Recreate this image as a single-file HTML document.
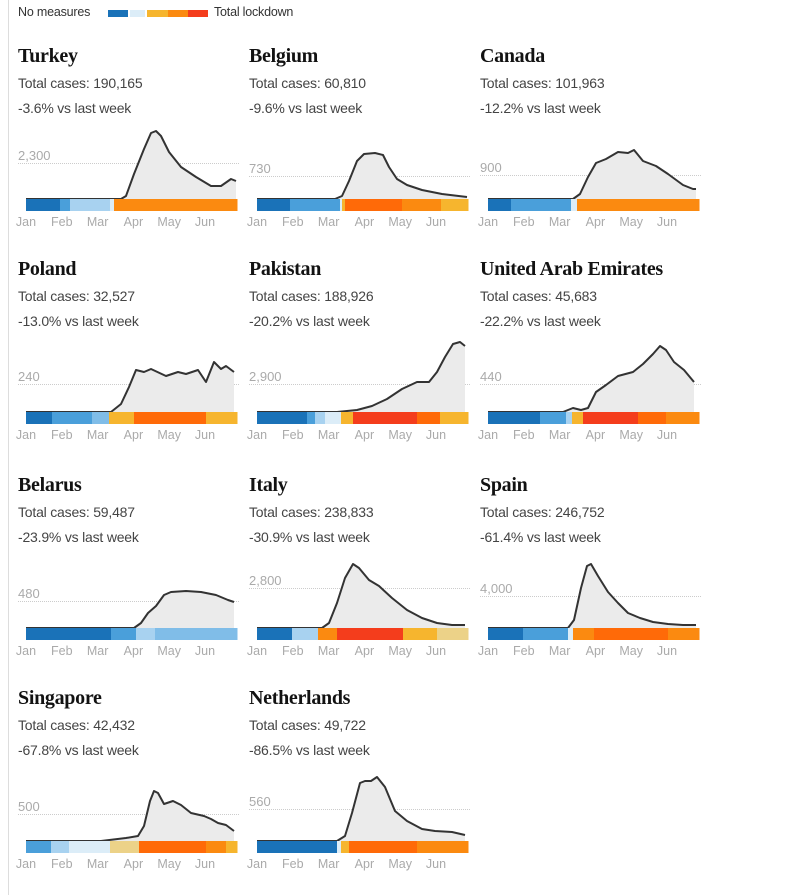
<!DOCTYPE html>
<html><head><meta charset="utf-8"><style>
body{margin:0;background:#fff;width:800px;height:895px;overflow:hidden;position:relative;font-family:"Liberation Sans",sans-serif}
.bl{position:absolute;left:8px;top:0;width:1px;height:895px;background:#ddd}
.t{position:absolute;font-family:"Liberation Serif",serif;font-weight:bold;font-size:20px;color:#121212;white-space:nowrap;letter-spacing:-0.3px}
.s{position:absolute;font-size:14px;color:#444;white-space:nowrap;letter-spacing:-0.2px}
svg{position:absolute;left:0;top:0}
</style></head><body>
<div class="bl"></div>
<div class="s" style="left:18px;top:5px;font-size:12.5px;color:#333">No measures</div>
<div class="s" style="left:214px;top:5px;font-size:12.5px;color:#333">Total lockdown</div>
<svg id="g" width="800" height="895"></svg>
<div id="txt"></div>
<script>
const C={d:"#1a72b8",m:"#4a9fda",l:"#a8d2f0",p:"#dcedf8",y:"#f6b52e",o:"#fb8a10",O:"#ff6a08",r:"#f43d1c",b:"#ecd288",L:"#80bde8"};
const P=[
["Turkey","190,165","-3.6%","2,300",0,0,36,[[0,"d"],[34,"m"],[44,"l"],[84,"p"],[88,"o"],[180,"o"]],[[0,0],[95,0],[100,3],[108,25],[118,50],[125,66],[130,68],[135,63],[143,47],[155,32],[170,22],[185,13],[195,13],[205,20],[210,18]]],
["Belgium","60,810","-9.6%","730",1,0,23,[[0,"d"],[33,"m"],[83,"p"],[85,"y"],[88,"O"],[145,"o"],[184,"y"]],[[0,0],[78,0],[85,3],[92,18],[100,38],[107,45],[118,46],[126,44],[132,32],[140,20],[150,14],[165,9],[185,5],[210,2]]],
["Canada","101,963","-12.2%","900",2,0,24,[[0,"d"],[23,"m"],[83,"p"],[89,"o"]],[[0,0],[85,0],[92,5],[100,22],[108,36],[118,40],[130,47],[140,46],[146,49],[155,38],[168,33],[180,25],[195,14],[205,10],[208,10]]],
["Poland","32,527","-13.0%","240",0,1,28,[[0,"d"],[26,"m"],[66,"L"],[83,"y"],[108,"O"],[180,"y"]],[[0,0],[85,0],[95,8],[103,25],[110,42],[118,40],[125,43],[140,36],[152,40],[160,38],[172,42],[180,30],[188,50],[195,43],[200,46],[208,40]]],
["Pakistan","188,926","-20.2%","2,900",1,1,28,[[0,"d"],[50,"m"],[58,"l"],[68,"p"],[84,"y"],[96,"r"],[160,"O"],[183,"y"]],[[0,0],[80,0],[100,2],[115,6],[130,13],[145,23],[160,30],[172,30],[180,40],[188,55],[196,68],[203,70],[208,66]]],
["United Arab Emirates","45,683","-22.2%","440",2,1,28,[[0,"d"],[52,"m"],[78,"l"],[84,"y"],[95,"r"],[150,"O"],[178,"o"]],[[0,0],[75,0],[85,4],[93,2],[100,4],[108,20],[118,27],[130,36],[145,40],[155,48],[165,58],[172,66],[178,62],[186,50],[196,42],[206,30]]],
["Belarus","59,487","-23.9%","480",0,2,27,[[0,"d"],[85,"m"],[110,"l"],[129,"L"]],[[0,0],[108,0],[115,5],[122,15],[130,22],[138,33],[145,36],[160,37],[175,36],[190,33],[202,28],[208,26]]],
["Italy","238,833","-30.9%","2,800",1,2,40,[[0,"d"],[35,"l"],[61,"o"],[80,"r"],[146,"y"],[180,"b"]],[[0,0],[65,0],[72,5],[80,25],[88,50],[96,64],[102,60],[112,48],[122,42],[135,30],[150,18],[165,10],[180,5],[195,3],[208,3]]],
["Spain","246,752","-61.4%","4,000",2,2,32,[[0,"d"],[35,"m"],[80,"p"],[85,"o"],[106,"O"],[180,"o"]],[[0,0],[80,0],[86,8],[93,40],[99,62],[103,64],[110,52],[120,36],[130,25],[140,15],[152,10],[165,6],[180,4],[195,3],[208,3]]],
["Singapore","42,432","-67.8%","500",0,3,27,[[0,"m"],[25,"l"],[43,"p"],[84,"b"],[113,"O"],[180,"o"],[200,"y"]],[[0,0],[75,0],[100,3],[112,5],[118,15],[124,40],[128,50],[132,48],[138,37],[147,40],[155,36],[165,28],[178,25],[185,22],[192,18],[200,16],[208,10]]],
["Netherlands","49,722","-86.5%","560",1,3,32,[[0,"d"],[80,"p"],[84,"y"],[92,"O"],[160,"o"]],[[0,0],[80,0],[88,5],[95,28],[103,58],[108,60],[114,60],[120,64],[128,54],[138,30],[150,20],[165,12],[178,10],[195,9],[208,6]]]
];
const cols=[18,249,480],rows=[58,271,487,700];
let s="",h="";
// legend
[[108,128,"d"],[130,145,"p"],[147,168,"y"],[168,188,"o"],[188,208,"r"]].forEach(a=>s+=`<rect x="${a[0]}" y="10" width="${a[1]-a[0]}" height="7" fill="${C[a[2]]}"/>`);
P.forEach(p=>{
 const x0=cols[p[4]],ty=rows[p[5]],cx=x0+8,W=211,by=ty+141;
 h+=`<div class="t" style="left:${x0}px;top:${ty-13}px">${p[0]}</div>`;
 h+=`<div class="s" style="left:${x0}px;top:${ty+17}px">Total cases: ${p[1]}</div>`;
 h+=`<div class="s" style="left:${x0}px;top:${ty+42}px">${p[2]} vs last week</div>`;
 const ry=by-p[6];
 s+=`<text x="${x0}" y="${ry-3}" font-size="13" fill="#aaa" font-family="Liberation Sans">${p[3]}</text>`;
 s+=`<line x1="${x0}" y1="${ry+0.5}" x2="${x0+221}" y2="${ry+0.5}" stroke="#ccc" stroke-dasharray="1,1"/>`;
 const pts=p[8].map(q=>`${cx+q[0]},${by-q[1]}`).join(" ");
 const last=p[8][p[8].length-1][0];
 s+=`<polygon points="${cx},${by} ${pts} ${cx+last},${by}" fill="#ebebeb"/>`;
 s+=`<polyline points="${pts}" fill="none" stroke="#333" stroke-width="2" stroke-linejoin="round"/>`;
 const seg=p[7];
 seg.forEach((g,i)=>{const e=i+1<seg.length?seg[i+1][0]:W;s+=`<rect x="${cx+g[0]}" y="${by}" width="${e-g[0]+0.5}" height="12" fill="${C[g[1]]}"/>`});
 ["Jan","Feb","Mar","Apr","May","Jun"].forEach((m,i)=>s+=`<text x="${cx+i*35.8}" y="${by+27}" font-size="12.5" fill="#aaa" text-anchor="middle" font-family="Liberation Sans">${m}</text>`);
});
document.getElementById("g").innerHTML=s;
document.getElementById("txt").innerHTML=h;
</script>
</body></html>
